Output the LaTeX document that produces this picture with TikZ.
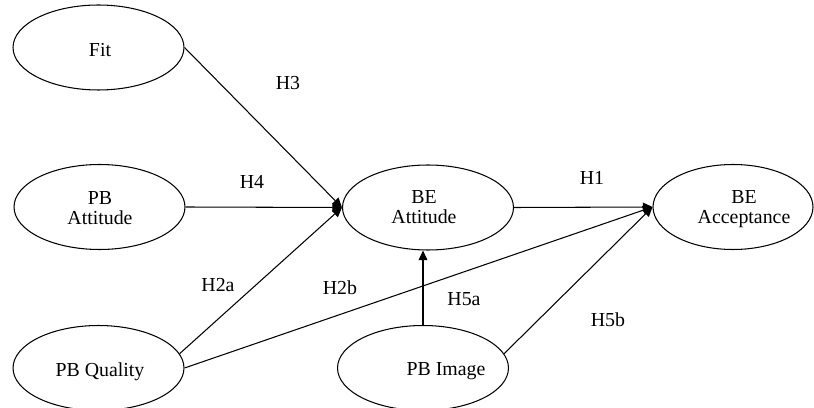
\documentclass[tikz,border=0pt]{standalone}
\usepackage{fontspec}
\setmainfont{Liberation Serif}
\usetikzlibrary{shapes.geometric,arrows.meta}
\tikzset{
  construct/.style={draw,ellipse,line width=0.6pt,minimum width=3.42cm,minimum height=1.7cm,inner sep=0pt},
  ctext/.style={align=center,inner sep=0pt,font=\fontsize{11.3}{11.2}\selectfont},
  hyplabel/.style={inner sep=0pt,font=\fontsize{11.3}{13}\selectfont},
  link/.style={line width=0.6pt,-{Triangle[length=5.5pt,width=5pt]}}
}
\newcommand{\hyp}[3]{\node[hyplabel] (#1) at (#2,#3) {#1};}

\begin{document}
\begin{tikzpicture}[x=0.02cm,y=-0.02cm]
\useasboundingbox (0,0) rectangle (814,408);
% constructs
\node[construct] (fit) at (98.5,47.5) {};
\node[construct] (pbatt) at (99.5,207) {};
\node[construct] (beatt) at (428,207.5) {};
\node[construct,minimum width=3.2cm] (beacc) at (733,207) {};
\node[construct] (pbqual) at (98.5,368) {};
\node[construct] (pbimg) at (423,368) {};
\node[ctext] (fit-t) at (100,50) {Fit};
\node[ctext] (pbatt-t) at (100,208) {PB\\Attitude};
\node[ctext] (beatt-t) at (424,207) {BE\\Attitude};
\node[ctext] (beacc-t) at (744,209) {BE\\Acceptance};
\node[ctext] (pbqual-t) at (100,372) {PB Quality};
\node[ctext] (pbimg-t) at (446,371) {PB Image};
% paths
\draw[link] (fit.east) -- (beatt.west);
\draw[link] (pbatt.east) -- (beatt.west);
\draw[link] (pbqual.10) -- (beatt.west);
\draw[link] (pbqual.east) -- (beacc.west);
\draw[link] (pbimg.north) -- (pbimg.north |- beatt.south);
\draw[link] (pbimg.10) -- (beacc.west);
\draw[link] (beatt.east) -- (beacc.west);
% hypotheses
\hyp{H3}{288}{83}\hyp{H4}{252}{182}\hyp{H1}{592}{178}\hyp{H2a}{218}{285}
\hyp{H2b}{340}{288}\hyp{H5a}{464}{299}\hyp{H5b}{608}{320}
\end{tikzpicture}
\end{document}
